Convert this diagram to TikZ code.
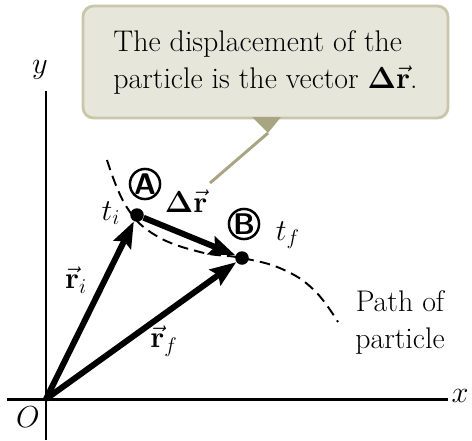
\documentclass[tikz,border=0pt]{standalone}
\usepackage{amsmath}
\usepackage{bm}
\usetikzlibrary{arrows.meta, positioning}
\definecolor{notefill}{HTML}{E7E6DB}
\definecolor{noteedge}{HTML}{C9C7A9}
\definecolor{pointer}{HTML}{A8A682}
\tikzset{
    axis/.style={line width=1.7pt},
    vec/.style={line width=3.4pt, -{Stealth[length=0.52cm, width=0.38cm, inset=0.08cm]}},
    dot/.style={circle, fill=black, inner sep=0pt, minimum size=0.27cm},
    marker/.style={circle, draw, line width=1.4pt, inner sep=0pt, minimum size=0.6cm, font=\sffamily\bfseries\fontsize{17}{17}\selectfont},
    trail/.style={line width=1.1pt, dash pattern=on 6pt off 3.5pt},
    callout/.style={rectangle, rounded corners=6pt, fill=notefill, draw=noteedge, line width=1.6pt, minimum width=7.3cm, minimum height=2.24cm, align=left}
}

\begin{document}
\begin{tikzpicture}[x=0.02cm, y=-0.02cm, font=\fontsize{17}{21}\selectfont]
    \useasboundingbox (0,0) rectangle (472,440);

    % axes
    \coordinate (O) at (46,399);
    \coordinate (xleft) at (7,399);
    \coordinate (xright) at (448,399);
    \coordinate (ytop) at (46,91);
    \coordinate (ybottom) at (46,440);
    \draw [axis] (xleft) -- (xright);
    \draw [axis] (ybottom) -- (ytop);
    \node (xlab) at (460,396) {$x$};
    \node (ylab) at (40,70) {$y$};
    \node (olab) at (28,417) {$O$};

    % path of the particle
    \draw [trail] plot[smooth, tension=0.7] coordinates {(107,160) (126,206) (155,235) (200,252) (242,258) (282,269) (314,290) (338,322)};
    \node (pathlab) [align=center] at (400,322) {Path of\\particle};

    % positions
    \node (ptA) [dot] at (137,215) {};
    \node (ptB) [dot] at (242,258) {};
    \node (mA) [marker] at (145,184) {A};
    \node (mB) [marker] at (244,224) {B};
    \node (ti) at (111,213) {$t_i$};
    \node (tf) at (288,235) {$t_f$};

    \draw [vec] (O) -- (ptA);
    \draw [vec] (O) -- (ptB);
    \draw [vec] (ptA) -- (ptB);
    \node (ri) at (76,280) {$\vec{\mathbf{r}}_i$};
    \node (rf) at (164,341) {$\vec{\mathbf{r}}_f$};
    \node (dr) at (186,201) {$\boldsymbol{\Delta}\vec{\mathbf{r}}$};

    % callout
    \node (note) [callout] at (265.5,62) {The displacement of the\\particle is the vector $\boldsymbol{\Delta}\vec{\mathbf{r}}$.};
    \coordinate (tip) at (268,133);
    \coordinate (tail) at (210,183);
    \fill [pointer] (252,117) -- (281,117) -- (tip) -- cycle;
    \draw [pointer, line width=1.7pt] (tip) -- (tail);
\end{tikzpicture}
\end{document}
